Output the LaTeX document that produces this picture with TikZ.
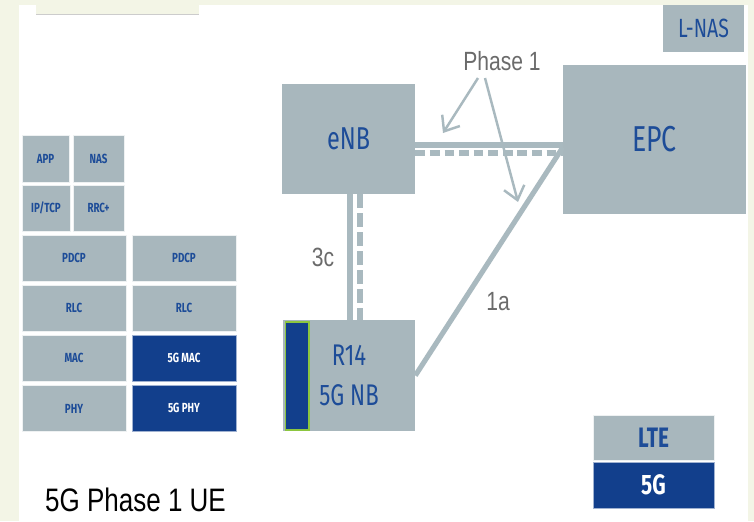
\documentclass[tikz,border=0pt]{standalone}
\usepackage{fontspec}
\setmainfont{Liberation Sans}
\newfontfamily\dinfont{Fira Sans}[FakeStretch=0.74]
\newfontfamily\narrowfont{Liberation Sans}[FakeStretch=0.8]
\usepackage{tikz}
\usetikzlibrary{arrows.meta,calc}
\definecolor{creambg}{HTML}{F3F5E6}
\definecolor{boxgray}{HTML}{A8B7BD}
\definecolor{linegray}{HTML}{A9B9BF}
\definecolor{bluedark}{HTML}{123F8C}
\definecolor{bluetext}{HTML}{1D4C98}
\definecolor{labelgray}{HTML}{6B6B6B}
\definecolor{greenedge}{HTML}{8CC63F}
\tikzset{netbox/.style={fill=boxgray,text=bluetext,inner sep=0pt,font=\dinfont\fontsize{17}{20}\selectfont},
layer/.style={fill=boxgray,draw=white!80!boxgray,line width=0.5pt,text=bluetext,inner sep=0pt,
  minimum height=0.92cm,font=\dinfont\bfseries\fontsize{7.5}{8}\selectfont},
layerng/.style={layer,fill=bluedark,draw=white!60!bluedark,text=white},
link/.style={linegray,line width=3.2pt},
dashlink/.style={link,dash pattern=on 5.5pt off 2.8pt},
vdashlink/.style={link,dash pattern=on 8pt off 2.8pt},
callout/.style={-{Straight Barb[length=2.6mm,width=4.2mm]},linegray,line width=1.4pt},
tag/.style={text=labelgray,inner sep=0pt,font=\narrowfont\fontsize{15}{17}\selectfont}}

\begin{document}
\begin{tikzpicture}[x=0.02cm,y=-0.02cm]
\useasboundingbox (0,0) rectangle (754,521);
\fill[creambg] (0,0) rectangle (754,521);
\fill[white] (19,5) rectangle (748,521);
\fill[creambg] (36,5) rectangle (199,14);
\draw[black!20,line width=0.6pt] (36,14.5)--(199,14.5);

% network elements
\node[netbox,minimum width=2.66cm,minimum height=2.2cm,font=\dinfont\fontsize{18}{20}\selectfont] (enb) at (348.5,139) {eNB};
\node[netbox,minimum width=3.66cm,minimum height=2.98cm,font=\dinfont\fontsize{20.5}{22}\selectfont] (epc) at (654.5,139.5) {EPC};
\node[netbox,minimum width=1.62cm,minimum height=0.94cm,font=\dinfont\fontsize{15}{17}\selectfont] (lnas) at (703.5,28.5) {L-NAS};
\node[netbox,minimum width=2.64cm,minimum height=2.22cm,align=center,font=\dinfont\fontsize{17}{22.7}\selectfont] (r14) at (349,375.5) {R14\\5G NB};
\fill[bluedark,draw=greenedge,line width=0.9pt] (285.5,322) rectangle (309,430);

% links
\coordinate (s1) at ($(enb.east)+(0,6)$);
\coordinate (s2) at ($(enb.east)+(0,14)$);
\coordinate (s3) at ($(enb.south)+(1.5,0)$);
\coordinate (s4) at ($(enb.south)+(11.5,0)$);
\draw[link] (s1) -- (s1 -| epc.west);
\draw[dashlink] (s2) -- (s2 -| epc.west);
\draw[link] (s3) -- (s3 |- r14.north);
\draw[vdashlink] (s4) -- (s4 |- r14.north);
\draw[link,line width=2.9pt] (r14.east) -- ($(epc.west)+(0,8)$);

% labels
\node[tag] (phase) at (502,61) {Phase 1};
\node[tag] (lbl3c) at (323,257) {3c};
\node[tag] (lbl1a) at (498,302) {1a};
\coordinate (tipx2) at (443,133);
\coordinate (tips1) at (518,202);
\draw[callout] ($(phase.south)+(-24,7)$) -- (tipx2);
\draw[callout] ($(phase.south)+(-17,7)$) -- (tips1);

% UE protocol stack
\node[layer,minimum width=0.94cm,minimum height=0.94cm] (app) at (45.5,158.5) {APP};
\node[layer,minimum width=1.02cm,minimum height=0.94cm] (nas) at (98.5,158.5) {NAS};
\node[layer,minimum width=0.96cm] (iptcp) at (46,208) {IP/TCP};
\node[layer,minimum width=1.02cm] (rrc) at (98.5,208) {RRC+};
\node[layer,minimum width=2.08cm] (pdcpa) at (74,258) {PDCP};
\node[layer,minimum width=2.08cm] (rlca) at (74,308) {RLC};
\node[layer,minimum width=2.08cm] (maca) at (74,358) {MAC};
\node[layer,minimum width=2.08cm] (phya) at (74,408.5) {PHY};
\node[layer,minimum width=2.08cm] (pdcpb) at (184,258) {PDCP};
\node[layer,minimum width=2.08cm] (rlcb) at (184,308) {RLC};
\node[layerng,minimum width=2.08cm] (macb) at (184,358) {5G MAC};
\node[layerng,minimum width=2.08cm] (phyb) at (184,408) {5G PHY};
\node[inner sep=0pt,font=\narrowfont\fontsize{18.5}{20}\selectfont] (uecap) at (135.5,500) {5G Phase 1 UE};

% legend
\node[layer,minimum width=2.42cm,minimum height=0.9cm,font=\dinfont\bfseries\fontsize{16}{18}\selectfont] (lte) at (653.5,437.5) {LTE};
\node[layerng,minimum width=2.42cm,minimum height=0.92cm,font=\dinfont\bfseries\fontsize{16}{18}\selectfont] (leg5g) at (653.5,485) {5G};
\end{tikzpicture}
\end{document}
